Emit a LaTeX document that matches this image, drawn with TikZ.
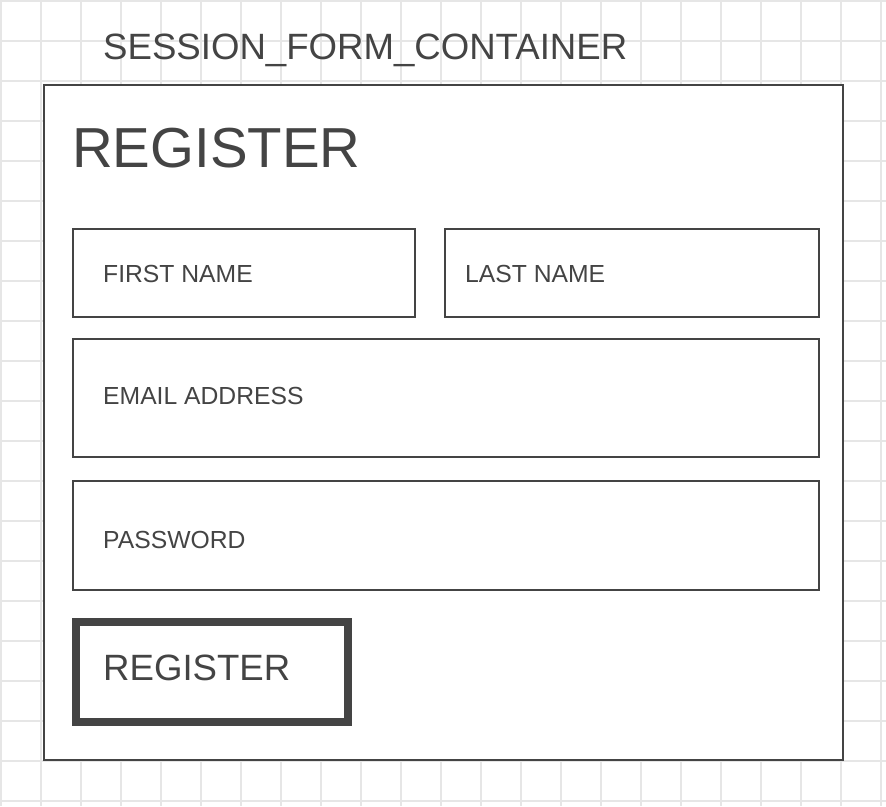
\documentclass[tikz,border=0pt]{standalone}
\usepackage{fontspec}
\setmainfont{Liberation Sans}
\definecolor{ink}{HTML}{444444}
\definecolor{gridline}{HTML}{E6E6E6}
\begin{document}
\begin{tikzpicture}[x=1pt,y=-1pt,
  field/.style={draw=ink, line width=1.5pt, fill=white, rectangle, inner sep=0pt, outer sep=0pt, anchor=north west},
  caption/.style={text=ink, inner sep=0pt, anchor=base west},
  labeltext/.style={caption, font=\fontsize{24.7}{28}\selectfont},
  buttonbox/.style={draw=ink, line width=8pt, fill=white, rectangle, inner sep=0pt, outer sep=0pt, anchor=north west}]
  \useasboundingbox (0,0) rectangle (886,806);
  \fill[white] (0,0) rectangle (886,806);
  % background grid
  \foreach \gx in {1,41,...,881} \draw[gridline, line width=1.2pt] (\gx,0) -- (\gx,806);
  \foreach \gy in {1,41,...,801} \draw[gridline, line width=1.2pt] (0,\gy) -- (886,\gy);

  % container title
  \node[caption, font=\fontsize{36.6}{40}\selectfont] (title) at (103,59) {SESSION\_FORM\_CONTAINER};

  % form container
  \node[field, minimum width=799pt, minimum height=675pt] (container) at (44,85) {};
  \node[caption, font=\fontsize{56.4}{60}\selectfont] (heading) at (72,167) {REGISTER};

  % input fields
  \node[field, minimum width=342pt, minimum height=88pt] (first) at (73,229) {};
  \node[field, minimum width=374pt, minimum height=88pt] (last) at (445,229) {};
  \node[field, minimum width=746pt, minimum height=118pt] (email) at (73,339) {};
  \node[field, minimum width=746pt, minimum height=109pt] (password) at (73,481) {};

  \node[labeltext] (firstlbl) at (103,282) {FIRST NAME};
  \node[labeltext] (lastlbl) at (465,282) {LAST NAME};
  \node[labeltext] (emaillbl) at (103,404) {EMAIL ADDRESS};
  \node[labeltext] (passwordlbl) at (103,548) {PASSWORD};

  % submit button
  \node[buttonbox, minimum width=272pt, minimum height=100pt] (button) at (76,622) {};
  \node[caption, font=\fontsize{36.6}{40}\selectfont] (buttonlbl) at (103,680) {REGISTER};
\end{tikzpicture}
\end{document}
